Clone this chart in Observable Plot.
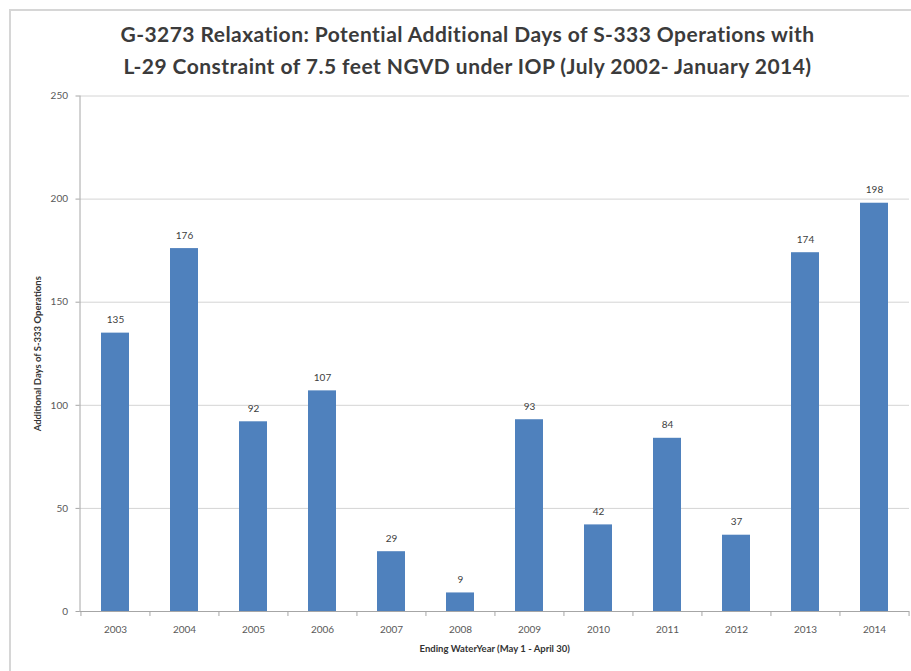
<!DOCTYPE html>
<html><head><meta charset="utf-8">
<script src="https://cdn.jsdelivr.net/npm/d3@7"></script>
<script src="https://cdn.jsdelivr.net/npm/@observablehq/plot@0.6"></script>
<style>
body{margin:0;background:#fff;}
#wrap{position:relative;width:911px;height:671px;overflow:hidden;background:#fff;}
#border{position:absolute;left:9px;top:9px;width:1000px;height:1000px;border-left:2px solid #d6d6d6;border-top:2px solid #d6d6d6;}
#chart{position:absolute;left:0;top:0;}
#title{position:absolute;left:24px;right:0;top:18px;text-align:center;font-family:Lato,sans-serif;font-weight:bold;font-size:21px;letter-spacing:0.45px;color:#3b3b3b;line-height:31.5px;}
</style></head><body>
<div id="wrap"><div id="border"></div><div id="chart"></div>
<div id="title">G-3273 Relaxation: Potential Additional Days of S-333 Operations with<br>L-29 Constraint of 7.5 feet NGVD under IOP (July 2002- January 2014)</div></div>
<script>
const years = ["2003","2004","2005","2006","2007","2008","2009","2010","2011","2012","2013","2014"];
const days = [135,176,92,107,29,9,93,42,84,37,174,198];
const yTicks = [0,50,100,150,200,250];
const yLabel = "Additional Days of S-333 Operations";
const xLabel = "Ending WaterYear (May 1 - April 30)";

const data = years.map((y,i)=>({year:y, days:days[i]}));
const W = 911, H = 671, ML = 79.5, MR = 2, MT = 95.5, MB = 60;
const step = (W - ML - MR) / years.length;
const axisColor = "#a6a6a6";

const plot = Plot.plot({
  width: W, height: H,
  marginLeft: ML, marginRight: MR, marginTop: MT, marginBottom: MB,
  style: {fontFamily: "Lato, sans-serif", background: "transparent", overflow: "visible"},
  x: {domain: years, padding: 0.6, paddingOuter: 0.3, label: null},
  y: {domain: [0,250], label: null},
  marks: [
    Plot.gridY(yTicks, {stroke: "#d4d4d4", strokeOpacity: 1}),
    Plot.barY(data, {x: "year", y: "days", fill: "#4f81bd"}),
    Plot.ruleY([0], {stroke: axisColor}),
    Plot.frame({anchor: "left", stroke: axisColor}),
    Plot.axisY(yTicks, {tickSize: 4, tickPadding: 8, fontSize: 10, fill: "#595959", stroke: axisColor, label: null}),
    Plot.axisX({tickSize: 0, tickPadding: 14, fontSize: 10, fill: "#595959", label: null}),
    Plot.ruleX(years, {x: d=>d, dx: -step/2, y1: 0, y2: 0, insetBottom: -5, stroke: axisColor}),
    Plot.ruleX([years[years.length-1]], {x: d=>d, dx: step/2, y1: 0, y2: 0, insetBottom: -5, stroke: axisColor}),
    Plot.text(data, {x: "year", y: "days", text: d=>String(d.days), dy: -10, lineAnchor: "bottom", fontSize: 10, fill: "#404040"}),
    Plot.text([yLabel], {text: d=>d, frameAnchor: "left", textAnchor: "middle", rotate: -90, dx: -42, fontWeight: "bold", fontSize: 9.5, fill: "#333"}),
    Plot.text([xLabel], {text: d=>d, frameAnchor: "bottom", lineAnchor: "middle", dy: 37, fontWeight: "bold", fontSize: 9.5, fill: "#333"})
  ]
});
document.getElementById("chart").appendChild(plot);
</script>
</body></html>
